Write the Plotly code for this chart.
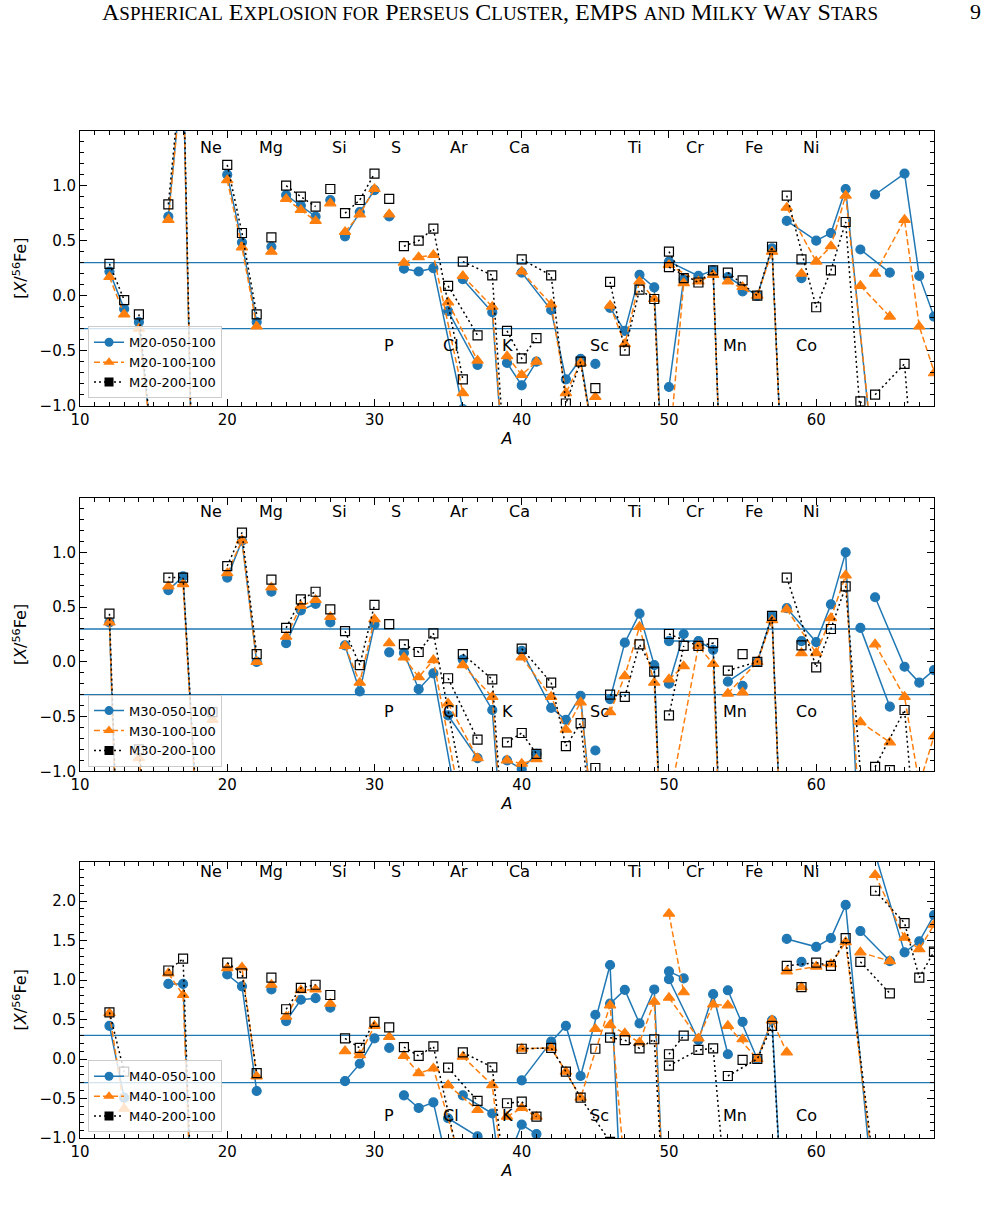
import plotly.graph_objects as go

# ---------------- data ----------------
ELEMENTS = ["C", "N", "O", "F", "Ne", "Na", "Mg", "Al", "Si", "P", "S", "Cl", "Ar", "K",
            "Ca", "Sc", "Ti", "V", "Cr", "Mn", "Fe", "Co", "Ni", "Cu", "Zn"]
ISOTOPES = [[12, 13], [14, 15], [16, 17, 18], [19], [20, 21, 22], [23], [24, 25, 26], [27],
            [28, 29, 30], [31], [32, 33, 34, 36], [35, 37], [36, 38, 40], [39, 40, 41],
            [40, 42, 43, 44, 46, 48], [45], [46, 47, 48, 49, 50], [50, 51], [50, 52, 53, 54],
            [55], [54, 56, 57, 58], [59], [58, 60, 61, 62, 64], [63, 65], [64, 66, 67, 68, 70]]

TOP_LABELS = ["Ne", "Mg", "Si", "S", "Ar", "Ca", "Ti", "Cr", "Fe", "Ni"]
TOP_LABEL_A = [18, 22, 27, 31, 35, 39, 47, 51, 55, 59]
BOTTOM_LABELS = ["P", "Cl", "K", "Sc", "Mn", "Co"]
BOTTOM_LABEL_A = [30.5, 34.5, 38.5, 44.5, 53.5, 58.5]

# [X/56Fe] per element (isotopes in ISOTOPES order)
M20_050 = [[0.22, -0.12], [-0.24, -1.5], [0.72, 2.1, -4.1], [-2.0], [1.10, 0.485, -0.24], [0.445],
           [0.915, 0.82, 0.72], [0.87], [0.54, 0.76, 0.96], [0.72], [0.245, 0.22, 0.25, -1.03],
           [-0.14, -0.63], [0.15, -0.15, -3.8], [-0.61, -0.815, -0.60],
           [0.21, -0.13, -0.76, -0.575, -2.2, -3.0], [-0.62], [-0.11, -0.32, 0.19, 0.076, -3.0],
           [-0.83, 0.15], [0.31, 0.18, 0.23, -3.5], [0.04], [0.17, 0.0, 0.43, -2.6], [0.16],
           [0.68, 0.50, 0.57, 0.97, -1.66], [0.42, 0.21], [0.92, 1.11, 0.18, -0.19, -1.0]]
M20_100 = [[0.17, -0.17], [-0.30, -1.5], [0.69, 2.1, -4.1], [-2.0], [1.05, 0.44, -0.28], [0.40],
           [0.88, 0.78, 0.68], [0.84], [0.58, 0.74, 0.97], [0.74], [0.30, 0.35, 0.37, -0.885],
           [-0.06, -0.59], [0.18, -0.10, -3.8], [-0.55, -0.72, -0.60],
           [0.22, -0.08, -0.885, -0.61, -2.2, -3.0], [-0.92], [-0.09, -0.44, 0.13, -0.03, -3.0],
           [-1.43, 0.115], [0.28, 0.13, 0.19, -3.5], [0.08], [0.13, 0.0, 0.40, -2.6], [0.20],
           [0.80, 0.31, 0.45, 0.91, -1.6], [0.09, -0.19], [0.20, 0.69, -0.28, -0.705, -1.5]]
M20_200 = [[0.29, -0.04], [-0.17, -1.5], [0.83, 2.2, -4.0], [-2.0], [1.19, 0.57, -0.17], [0.53],
           [1.00, 0.90, 0.81], [0.97], [0.75, 0.87, 1.11], [0.88], [0.45, 0.50, 0.61, -0.76],
           [0.09, -0.36], [0.31, 0.185, -3.8], [-0.32, -0.57, -0.385],
           [0.33, 0.185, -0.98, -0.60, -2.2, -3.0], [-0.84], [0.125, -0.50, 0.055, -0.03, -3.0],
           [0.40, 0.16], [0.26, 0.12, 0.23, -3.5], [0.14], [0.21, 0.0, 0.445, -2.6], [0.33],
           [0.91, -0.105, 0.23, 0.67, -2.85], [-0.96, -1.5], [-0.90, -0.62, -2.3, -2.5, -3.0]]

M30_050 = [[0.36, -3.7], [-1.5, -2.0], [0.655, 0.78, -1.6], [-1.5], [0.77, 1.106, 0.0], [0.64],
           [0.17, 0.47, 0.53], [0.36], [0.15, -0.27, 0.34], [0.087], [0.083, -0.25, -0.105, -1.6],
           [-0.49, -0.88], [0.02, -0.44, -4.0], [-0.90, -0.98, -0.84],
           [0.10, -0.42, -0.53, -0.31, -3.2, -4.0], [-0.81], [-0.34, 0.175, 0.44, -0.03, -3.5],
           [-0.20, 0.254], [0.19, 0.19, 0.11, -3.5], [-0.22], [-0.18, 0.0, 0.42, -3.0], [0.19],
           [0.49, 0.18, 0.525, 1.0, -5.0], [0.31, -0.41], [0.59, -0.045, -0.19, -0.075, -1.0]]
M30_100 = [[0.36, -3.7], [-0.88, -2.0], [0.69, 0.71, -1.6], [-0.53], [0.81, 1.11, 0.0], [0.68],
           [0.23, 0.51, 0.565], [0.41], [0.145, -0.19, 0.39], [0.17], [0.04, -0.14, 0.016, -1.4],
           [-0.38, -0.88], [-0.03, -0.32, -4.0], [-0.90, -0.93, -0.89],
           [0.04, -0.32, -0.62, -0.37, -3.0, -4.0], [-1.5], [-0.46, -0.13, 0.32, -0.19, -3.5],
           [-0.16, -0.04], [-1.29, 0.145, -0.02, -3.5], [-0.28], [-0.29, 0.0, 0.38, -3.0], [0.08],
           [0.48, 0.08, 0.40, 0.79, -4.0], [-0.55, -0.735], [0.16, -0.32, -1.12, -0.68, -1.5]]
M30_200 = [[0.44, -3.5], [-0.80, -2.0], [0.77, 0.77, -1.5], [-0.46], [0.875, 1.18, 0.07], [0.75],
           [0.31, 0.57, 0.64], [0.48], [0.28, -0.03, 0.52], [0.345], [0.16, 0.09, 0.26, -1.15],
           [-0.15, -0.71], [0.07, -0.16, -4.0], [-0.735, -0.65, -0.84],
           [0.12, -0.19, -0.77, -0.56, -3.0, -4.0], [-0.97], [-0.30, -0.32, 0.16, -0.09, -3.5],
           [-0.49, 0.145], [0.254, 0.145, 0.17, -3.5], [0.07], [-0.08, 0.0, 0.42, -3.0], [0.15],
           [0.77, -0.05, 0.30, 0.69, -2.7], [-1.3, -0.99], [-0.96, -0.44, -2.0, -2.5, -3.0]]

M40_050 = [[0.42, -0.49], [-2.0, -2.0], [0.95, 0.95, -4.0], [-2.0], [1.07, 0.92, -0.405], [0.88],
           [0.48, 0.75, 0.77], [0.65], [-0.28, -0.06, 0.26], [0.14], [-0.46, -0.62, -0.55, -2.2],
           [-0.75, -0.98], [-0.46, -0.69, -3.5], [-1.3, -0.83, -0.95],
           [-0.27, 0.22, 0.42, -0.215, 1.19, -6.8], [0.56], [0.70, 0.875, 0.45, 0.88, -3.3],
           [1.11, 1.02], [1.01, 0.24, 0.82, 0.06], [0.47], [0.87, 0.0, 0.49, -3.0], [1.23],
           [1.52, 1.42, 1.53, 1.95, -1.98], [1.62, 1.24], [2.6, 1.35, 1.49, 1.82, 2.0]]
M40_100 = [[0.58, -0.63], [-2.0, -2.0], [1.085, 0.81, -4.0], [-2.0], [1.15, 1.16, -0.22], [0.94],
           [0.535, 0.87, 0.88], [0.70], [0.10, 0.05, 0.42], [0.28], [0.04, -0.18, -0.12, -1.38],
           [-0.33, -0.645], [0.03, -0.33, -3.5], [-0.73, -0.62, -0.73],
           [0.13, 0.14, -0.16, -0.49, 0.68, -3.5], [0.38], [0.43, 0.325, 0.21, 0.725, -3.3],
           [1.84, 0.845], [0.775, 0.26, 0.69, 0.68], [0.25], [0.42, 0.0, 0.49, 0.085], [0.91],
           [1.11, 1.17, 1.20, 1.48, -1.6], [1.35, 1.24], [2.33, 1.535, 1.39, 1.70, 2.0]]
M40_200 = [[0.59, -0.16], [-2.0, -2.0], [1.12, 1.27, -4.0], [-2.0], [1.22, 1.085, -0.18], [1.03],
           [0.63, 0.90, 0.94], [0.81], [0.26, 0.14, 0.47], [0.40], [0.15, 0.04, 0.16, -1.5],
           [-0.11, -0.53], [0.085, -0.105, -3.5], [-0.56, -0.54, -0.73],
           [0.13, 0.14, -0.16, -0.49, -1.05, -2.0], [0.13], [0.27, 0.24, 0.135, 0.25, -3.0],
           [0.06, 0.295], [-0.085, 0.115, 0.135, -2.0], [-0.01], [-0.215, 0.0, 0.42, -3.0], [0.91],
           [1.18, 1.22, 1.18, 1.53, -1.5], [1.23, 0.83], [2.13, 1.72, 1.03, 1.36, 1.5]]

PANELS = [
    {"names": ["M20-050-100", "M20-100-100", "M20-200-100"], "data": [M20_050, M20_100, M20_200],
     "yrange": [-1.0, 1.5], "ticks": [-1.0, -0.5, 0.0, 0.5, 1.0], "ytop": 1.35, "ybot": -0.45,
     "ydom": [0.66773, 0.89296], "legy": 0.6738},
    {"names": ["M30-050-100", "M30-100-100", "M30-200-100"], "data": [M30_050, M30_100, M30_200],
     "yrange": [-1.0, 1.5], "ticks": [-1.0, -0.5, 0.0, 0.5, 1.0], "ytop": 1.37, "ybot": -0.45,
     "ydom": [0.36830, 0.59246], "legy": 0.3721},
    {"names": ["M40-050-100", "M40-100-100", "M40-200-100"], "data": [M40_050, M40_100, M40_200],
     "yrange": [-1.0, 2.5], "ticks": [-1.0, -0.5, 0.0, 0.5, 1.0, 1.5, 2.0], "ytop": 2.37,
     "ybot": -0.72, "ydom": [0.06798, 0.29443], "legy": 0.0726},
]

STYLES = [
    {"color": "#1f77b4", "dash": "solid", "symbol": "circle", "size": 9, "legsym": "circle"},
    {"color": "#ff7f0e", "dash": "6px,3px", "symbol": "triangle-up", "size": 10, "legsym": "triangle-up"},
    {"color": "black", "dash": "2px,3px", "symbol": "square-open", "size": 9, "legsym": "square"},
]


def series(vals):
    xs, ys = [], []
    for iso, v in zip(ISOTOPES, vals):
        xs.extend(iso)
        ys.extend(v)
        xs.append(None)
        ys.append(None)
    return xs, ys


fig = go.Figure()
shapes = []
annotations = []
layout = {}

for p, panel in enumerate(PANELS):
    sfx = "" if p == 0 else str(p + 1)
    xa, ya = "x" + sfx, "y" + sfx
    leg = "legend" + sfx
    for s, (name, vals) in enumerate(zip(panel["names"], panel["data"])):
        st = STYLES[s]
        xs, ys = series(vals)
        fig.add_trace(go.Scatter(
            x=xs, y=ys, mode="lines+markers", xaxis=xa, yaxis=ya, showlegend=False,
            line=dict(color=st["color"], width=1.5, dash=st["dash"]),
            marker=dict(symbol=st["symbol"], size=st["size"], color=st["color"],
                        line=dict(color=st["color"], width=1.2)),
            connectgaps=False, hoverinfo="skip"))
    for s, name in enumerate(panel["names"]):
        st = STYLES[s]
        fig.add_trace(go.Scatter(
            x=[None], y=[None], mode="lines+markers", xaxis=xa, yaxis=ya, name=name,
            legend=leg, showlegend=True,
            line=dict(color=st["color"], width=1.5, dash=st["dash"]),
            marker=dict(symbol=st["legsym"], size=st["size"], color=st["color"])))

    layout["xaxis" + sfx] = dict(
        domain=[0.08089, 0.94439], range=[10, 68], anchor=ya, showline=True, mirror="allticks",
        linecolor="black", linewidth=1, ticks="inside", ticklen=7, tickwidth=1, tickcolor="black",
        tick0=10, dtick=10, showgrid=False, zeroline=False, automargin=False,
        minor=dict(ticks="inside", ticklen=4, tickwidth=1, tickcolor="black", dtick=1, showgrid=False),
        tickfont=dict(size=15, color="black", family="DejaVu Sans"),
        title=dict(text="<i>A</i>", font=dict(size=16, color="black", family="DejaVu Sans"), standoff=2))
    layout["yaxis" + sfx] = dict(
        domain=panel["ydom"], range=panel["yrange"], anchor=xa, showline=True, mirror="allticks",
        linecolor="black", linewidth=1, ticks="inside", ticklen=7, tickwidth=1, tickcolor="black",
        tickvals=panel["ticks"], tickformat=".1f", showgrid=False, zeroline=False, automargin=False,
        minor=dict(ticks="inside", ticklen=4, tickwidth=1, tickcolor="black", dtick=0.1, showgrid=False),
        tickfont=dict(size=15, color="black", family="DejaVu Sans"),
        title=dict(text="[<i>X</i>/<sup>56</sup>Fe]", font=dict(size=16, color="black", family="DejaVu Sans"),
                   standoff=8))
    layout[leg] = dict(
        x=0.089, y=panel["legy"], xanchor="left", yanchor="bottom",
        bgcolor="rgba(255,255,255,0.8)", bordercolor="#cccccc", borderwidth=1,
        font=dict(size=13, color="black", family="DejaVu Sans"), itemwidth=30, tracegroupgap=0)

    for yv in (0.3, -0.3):
        shapes.append(dict(type="line", xref=xa + " domain", x0=0, x1=1, yref=ya, y0=yv, y1=yv,
                           line=dict(color="#1f77b4", width=1.3), layer="below"))
    for lab, a in zip(TOP_LABELS, TOP_LABEL_A):
        annotations.append(dict(text=lab, x=a, y=panel["ytop"], xref=xa, yref=ya, xanchor="left",
                                yanchor="middle", showarrow=False,
                                font=dict(size=16, color="black", family="DejaVu Sans")))
    for lab, a in zip(BOTTOM_LABELS, BOTTOM_LABEL_A):
        annotations.append(dict(text=lab, x=a, y=panel["ybot"], xref=xa, yref=ya, xanchor="left",
                                yanchor="middle", showarrow=False,
                                font=dict(size=16, color="black", family="DejaVu Sans")))

sc = "font-size:19px"
header = ("A<span style='%s'>SPHERICAL</span> E<span style='%s'>XPLOSION FOR</span> "
          "P<span style='%s'>ERSEUS</span> C<span style='%s'>LUSTER</span>, EMPS "
          "<span style='%s'>AND</span> M<span style='%s'>ILKY</span> W<span style='%s'>AY</span> "
          "S<span style='%s'>TARS</span>") % ((sc,) * 8)
annotations.append(dict(text=header, x=100 / 989, y=1 - 12 / 1221, xref="paper", yref="paper",
                        xanchor="left", yanchor="middle", showarrow=False,
                        font=dict(size=24, color="black", family="Liberation Serif")))
annotations.append(dict(text="9", x=983 / 989, y=1 - 12 / 1221, xref="paper", yref="paper",
                        xanchor="right", yanchor="middle", showarrow=False,
                        font=dict(size=22, color="black", family="Liberation Serif")))

fig.update_layout(width=989, height=1221, margin=dict(l=0, r=0, t=0, b=0, autoexpand=False),
                  paper_bgcolor="white", plot_bgcolor="white", shapes=shapes,
                  annotations=annotations, **layout)

fig.write_html("out.html")
